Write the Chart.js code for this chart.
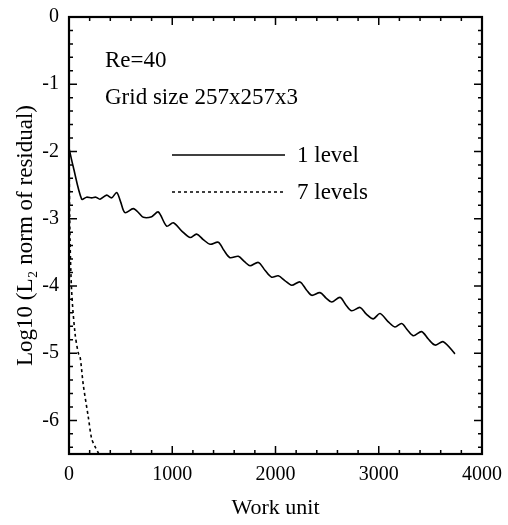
<!DOCTYPE html>
<html><head><meta charset="utf-8">
<script src="https://cdn.jsdelivr.net/npm/chart.js@4/dist/chart.umd.min.js"></script>
<style>html,body{margin:0;padding:0;background:#fff}#wrap{width:508px;height:525px}</style>
</head><body><div id="wrap"><canvas id="c" width="508" height="525"></canvas></div>
<script>
const level1X = [0, 40, 123, 170, 220, 260, 300, 365, 413, 462, 500, 542, 623, 680, 720, 801, 865, 946, 1010, 1090, 1172, 1236, 1300, 1366, 1446, 1500, 1559, 1640, 1700, 1753, 1834, 1900, 1963, 2027, 2090, 2157, 2237, 2300, 2351, 2431, 2490, 2544, 2625, 2680, 2738, 2819, 2880, 2947, 3012, 3090, 3157, 3222, 3280, 3335, 3415, 3480, 3545, 3625, 3738];
const level1Y = [-1.95, -2.22, -2.71, -2.68, -2.69, -2.68, -2.71, -2.65, -2.69, -2.61, -2.75, -2.91, -2.85, -2.92, -2.98, -2.97, -2.90, -3.11, -3.06, -3.18, -3.28, -3.23, -3.31, -3.38, -3.35, -3.47, -3.58, -3.56, -3.64, -3.70, -3.65, -3.77, -3.87, -3.85, -3.92, -3.99, -3.94, -4.06, -4.14, -4.10, -4.18, -4.24, -4.17, -4.28, -4.37, -4.32, -4.42, -4.49, -4.41, -4.53, -4.61, -4.56, -4.66, -4.74, -4.68, -4.79, -4.88, -4.83, -5.01];
const level7X = [0, 10, 26, 58, 90, 107, 139, 187, 219, 252, 290];
const level7Y = [-1.95, -3.3, -4.09, -4.7, -5.0, -5.05, -5.48, -5.95, -6.27, -6.39, -6.5];
const xTicks = [0, 1000, 2000, 3000, 4000];
const yTicks = [0, -1, -2, -3, -4, -5, -6];
const seriesNames = ['1 level', '7 levels'];
const notes = ['Re=40', 'Grid size 257x257x3'];

const SERIF = '"Liberation Serif", "DejaVu Serif", serif';

const framePlugin = {
  id: 'frame',
  afterDatasetsDraw(chart) {
    const ctx = chart.ctx, a = chart.chartArea;
    const xs = chart.scales.x, ys = chart.scales.y;
    ctx.save();
    ctx.strokeStyle = '#000';
    ctx.lineWidth = 2.2;
    ctx.strokeRect(a.left, a.top, a.right - a.left, a.bottom - a.top);
    ctx.lineWidth = 1.5;
    for (let v = 0; v <= 4000; v += 200) {
      const px = xs.getPixelForValue(v);
      const len = (v % 1000 === 0) ? 8 : 4;
      ctx.beginPath();
      ctx.moveTo(px, a.bottom); ctx.lineTo(px, a.bottom - len);
      ctx.moveTo(px, a.top); ctx.lineTo(px, a.top + len);
      ctx.stroke();
    }
    for (let i = 0; i <= 32; i++) {
      const v = -i * 0.2;
      const py = ys.getPixelForValue(v);
      const len = (i % 5 === 0) ? 8 : 4;
      ctx.beginPath();
      ctx.moveTo(a.left, py); ctx.lineTo(a.left + len, py);
      ctx.moveTo(a.right, py); ctx.lineTo(a.right - len, py);
      ctx.stroke();
    }
    ctx.fillStyle = '#000';
    ctx.font = '23px ' + SERIF;
    ctx.textBaseline = 'alphabetic';
    ctx.fillText(notes[0], 105, 67);
    ctx.fillText(notes[1], 105, 104);
    const items = chart.data.datasets;
    const ly = [155, 192];
    items.forEach((ds, i) => {
      ctx.save();
      ctx.strokeStyle = ds.borderColor;
      ctx.lineWidth = ds.borderWidth;
      ctx.setLineDash(ds.borderDash || []);
      ctx.beginPath();
      ctx.moveTo(172, ly[i]); ctx.lineTo(285, ly[i]);
      ctx.stroke();
      ctx.restore();
      ctx.fillText(ds.label, 297, ly[i] + 7);
    });
    ctx.restore();
  }
};

new Chart(document.getElementById('c'), {
  type: 'line',
  data: {
    datasets: [
      { label: seriesNames[0], data: level1X.map((x, i) => ({x, y: level1Y[i]})),
        borderColor: '#000', borderWidth: 1.6, pointRadius: 0, tension: 0.3, fill: false },
      { label: seriesNames[1], data: level7X.map((x, i) => ({x, y: level7Y[i]})),
        borderColor: '#000', borderWidth: 1.6, borderDash: [3, 3], pointRadius: 0, tension: 0.3, fill: false }
    ]
  },
  options: {
    responsive: false,
    animation: false,
    layout: { padding: { top: 17, right: 26, left: 0, bottom: 0 } },
    plugins: { legend: { display: false }, tooltip: { enabled: false } },
    scales: {
      x: {
        type: 'linear', min: 0, max: 4000,
        afterBuildTicks: s => { s.ticks = xTicks.map(v => ({value: v})); },
        afterFit: s => { s.height = 71; s.paddingRight = 0; s.paddingLeft = 0; },
        grid: { display: false, drawTicks: false },
        border: { display: false },
        ticks: { color: '#000', font: { family: SERIF, size: 20 }, padding: 9, maxRotation: 0, callback: v => String(v) },
        title: { display: true, text: 'Work unit', color: '#000', font: { family: SERIF, size: 22 }, padding: { top: 6 } }
      },
      y: {
        type: 'linear', min: -6.5, max: 0,
        afterBuildTicks: s => { s.ticks = yTicks.map(v => ({value: v})); },
        afterFit: s => { s.width = 69; s.paddingTop = 0; s.paddingBottom = 0; },
        grid: { display: false, drawTicks: false },
        border: { display: false },
        ticks: { color: '#000', font: { family: SERIF, size: 20 }, padding: 10, callback: v => String(v) },
        title: { display: true, text: 'Log10 (L\u2082 norm of residual)', color: '#000', font: { family: SERIF, size: 23 }, padding: { top: 12, bottom: 0 } }
      }
    }
  },
  plugins: [framePlugin]
});
</script></body></html>
